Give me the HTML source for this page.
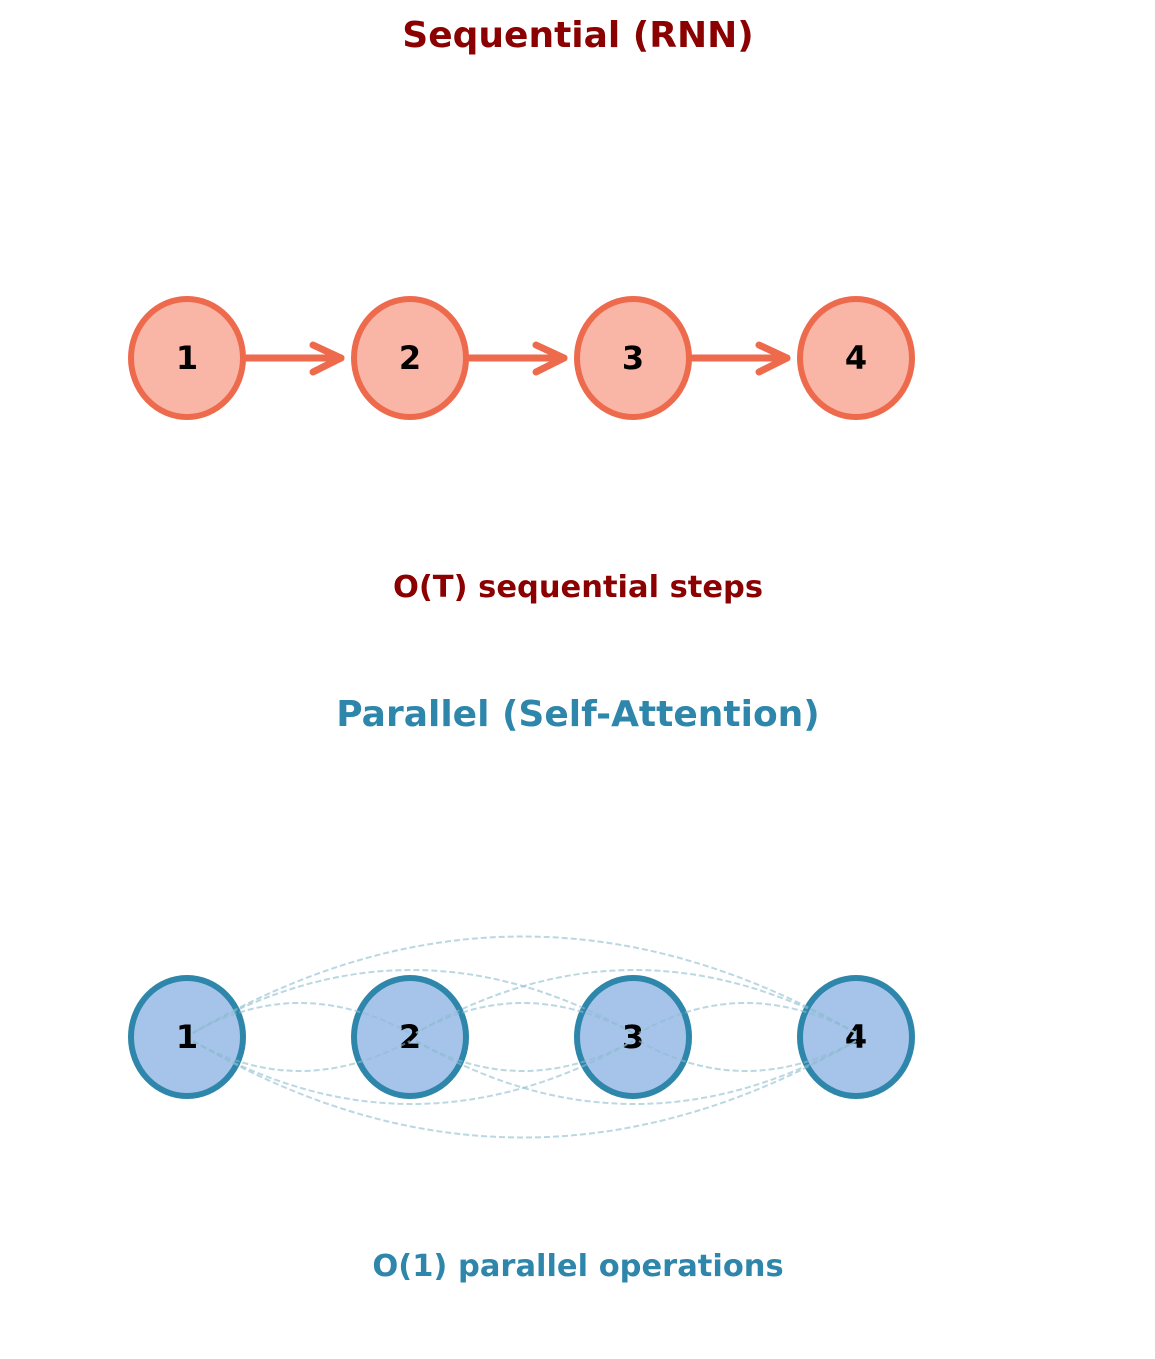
<!DOCTYPE html>
<html><head><style>body{margin:0;background:#fff}</style></head><body>
<svg width="1155" height="1354" xmlns="http://www.w3.org/2000/svg" font-family="'DejaVu Sans', 'Liberation Sans', sans-serif" font-weight="bold">
<text x="578" y="47" text-anchor="middle" font-size="36" fill="#8b0000">Sequential (RNN)</text>
<text x="578" y="597" text-anchor="middle" font-size="30.5" fill="#8b0000">O(T) sequential steps</text>
<text x="578" y="726" text-anchor="middle" font-size="36" fill="#2e86ab">Parallel (Self-Attention)</text>
<text x="578" y="1276" text-anchor="middle" font-size="30.5" fill="#2e86ab">O(1) parallel operations</text>
<g stroke="#ee6a4c" stroke-width="7" fill="none" stroke-linecap="round" stroke-linejoin="round">
<line x1="245" y1="358" x2="341" y2="358"/><polyline points="313,345 341,358 313,372"/>
<line x1="468" y1="358" x2="564" y2="358"/><polyline points="536,345 564,358 536,372"/>
<line x1="691" y1="358" x2="787" y2="358"/><polyline points="759,345 787,358 759,372"/>
</g>
<g fill="#f9b5a6" stroke="#ee6a4c" stroke-width="6">
<ellipse cx="187" cy="358" rx="56" ry="59"/><ellipse cx="410" cy="358" rx="56" ry="59"/><ellipse cx="633" cy="358" rx="56" ry="59"/><ellipse cx="856" cy="358" rx="56" ry="59"/>
</g>
<g font-size="32" text-anchor="middle" fill="#000"><text x="187" y="369">1</text><text x="410" y="369">2</text><text x="633" y="369">3</text><text x="856" y="369">4</text></g>
<g fill="#a6c4ea" stroke="#2e86ab" stroke-width="6">
<ellipse cx="187" cy="1037" rx="56" ry="59"/><ellipse cx="410" cy="1037" rx="56" ry="59"/><ellipse cx="633" cy="1037" rx="56" ry="59"/><ellipse cx="856" cy="1037" rx="56" ry="59"/>
</g>
<g font-size="32" text-anchor="middle" fill="#000"><text x="187" y="1048">1</text><text x="410" y="1048">2</text><text x="633" y="1048">3</text><text x="856" y="1048">4</text></g>
<g stroke="#8ebccf" stroke-opacity="0.6" stroke-width="2" fill="none" stroke-dasharray="6,3">
<path d="M410 1033 Q298 973 193 1033"/><path d="M633 1033 Q521 973 416 1033"/><path d="M856 1033 Q744 973 639 1033"/>
<path d="M633 1033 Q410 907 193 1033"/><path d="M856 1033 Q633 907 416 1033"/>
<path d="M856 1033 Q521 840 193 1033"/>
<path d="M193 1041 Q298 1101 410 1041"/><path d="M416 1041 Q521 1101 633 1041"/><path d="M639 1041 Q744 1101 856 1041"/>
<path d="M193 1041 Q410 1167 633 1041"/><path d="M416 1041 Q633 1167 856 1041"/>
<path d="M193 1041 Q521 1234 856 1041"/>
</g>
</svg>
</body></html>
